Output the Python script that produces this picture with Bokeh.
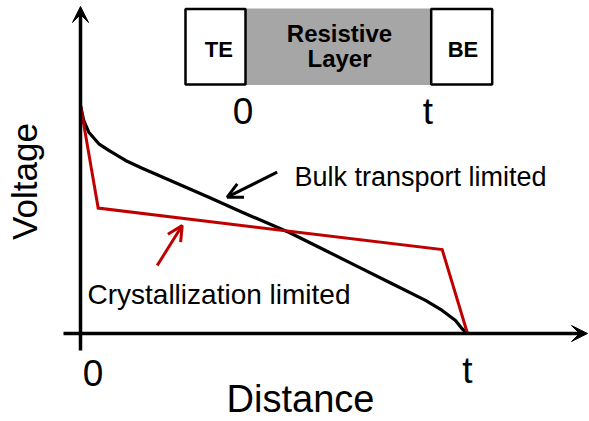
import math
from bokeh.plotting import figure
from bokeh.models import Range1d, Arrow, VeeHead, OpenHead
from bokeh.core.properties import value
from bokeh.embed import file_html
from bokeh.resources import INLINE

# ---------------- data ----------------
# distance in units of layer thickness t, voltage normalised to applied bias
bulk_distance = [0.0, 0.0085, 0.0214, 0.0473, 0.0731, 0.1163, 0.1594, 0.2455,
                 0.3315, 0.4178, 0.5382, 0.6331, 0.7191, 0.8054, 0.8915,
                 0.9346, 0.969, 0.986, 1.0]
bulk_voltage = [1.0, 0.934, 0.883, 0.832, 0.803, 0.759, 0.725, 0.661,
                0.598, 0.532, 0.444, 0.364, 0.291, 0.218, 0.145,
                0.101, 0.057, 0.021, 0.0]
cryst_distance = [0.0, 0.0457, 0.9346, 1.0]
cryst_voltage = [1.0, 0.550, 0.368, 0.0]

tick_positions = [0.0, 1.0]
tick_labels = ["0", "t"]
x_title = "Distance"
y_title = "Voltage"
bulk_label = "Bulk transport limited"
cryst_label = "Crystallization limited"
layer_labels = ["TE", "Resistive\nLayer", "BE"]

# ---------------- layout ----------------
W, H = 589, 421
OFF = 0          # canvas origin on the captured page
X0_PX, T_PX = 80.0, 467.0     # page px of distance 0 and t
Y0_PX, V1_PX = 333.0, 105.0   # page px of voltage 0 and 1
SX = T_PX - X0_PX
SY = Y0_PX - V1_PX
K = 0.35   # measured shift of the rendered baseline (in em)


def px(xp):
    return (xp - X0_PX) / SX


def py(yp):
    return (Y0_PX - yp) / SY


p = figure(width=W, height=H, output_backend="svg", toolbar_location=None,
           x_range=Range1d(px(OFF), px(OFF + W)),
           y_range=Range1d(py(OFF + H), py(OFF)),
           x_axis_type=None, y_axis_type=None, min_border=0)
p.outline_line_color = None
p.grid.visible = False
p.background_fill_color = "white"
p.border_fill_color = "white"

FONT = value("Liberation Sans")
BLACK = "#000000"
RED = "#C00000"

# ---------------- axes with arrows ----------------
p.add_layout(Arrow(x_start=0, y_start=py(350), x_end=0, y_end=py(6),
                   line_color=BLACK, line_width=3.5,
                   end=VeeHead(size=16, fill_color=BLACK, line_color=BLACK, line_width=1)))
p.add_layout(Arrow(x_start=px(63), y_start=0, x_end=px(587), y_end=0,
                   line_color=BLACK, line_width=3.5,
                   end=VeeHead(size=16, fill_color=BLACK, line_color=BLACK, line_width=1)))

# ---------------- device sketch (TE | resistive layer | BE) ----------------
top, bot = py(8.5), py(84)
p.quad(left=[px(245)], right=[px(430.7)], top=[top], bottom=[bot],
       fill_color="#A6A6A6", line_color="#A6A6A6", line_width=1)
p.quad(left=[px(185), px(430.7)], right=[px(245), px(491.7)], top=[top, top],
       bottom=[bot, bot], fill_color="white", line_color=BLACK, line_width=2.5)

# ---------------- curves ----------------
p.line(bulk_distance, bulk_voltage, line_color=BLACK, line_width=3.2, line_join="round")
p.line(cryst_distance, cryst_voltage, line_color=RED, line_width=3.0, line_join="miter")

# ---------------- annotation arrows ----------------
p.add_layout(Arrow(x_start=px(276.7), y_start=py(171.7), x_end=px(226.7), y_end=py(196.7),
                   line_color=BLACK, line_width=3,
                   end=OpenHead(size=15, line_color=BLACK, line_width=3)))
p.add_layout(Arrow(x_start=px(156.7), y_start=py(265), x_end=px(181.7), y_end=py(225),
                   line_color=RED, line_width=3,
                   end=OpenHead(size=15, line_color=RED, line_width=3)))


# ---------------- texts ----------------
def label(xp, yp, text, size, align="left", angle=0.0, style="normal"):
    """xp, yp: page pixels of the wanted baseline anchor."""
    if angle == 0.0:
        yp = yp - K * size
    else:
        xp = xp - K * size
    p.text(x=[px(xp)], y=[py(yp)], text=[text], text_font=FONT,
           text_font_size=f"{size}px", text_align=align,
           text_baseline="alphabetic", angle=angle,
           text_font_style=style, text_color=BLACK)


label(294, 186, bulk_label, 27)
label(87, 303.3, cryst_label, 28)
label(X0_PX + 12.5, 385, tick_labels[0], 37, align="center")
label(T_PX, 382.5, tick_labels[1], 37, align="center")
label(300, 412, x_title, 38, align="center")
label(36, 181, y_title, 35, align="center", angle=math.pi / 2)

label(218.3, 56.6, layer_labels[0], 22, align="center", style="bold")
label(462.5, 56.6, layer_labels[2], 22, align="center", style="bold")
res, lay = layer_labels[1].split("\n")
label(339, 41.7, res, 24, align="center", style="bold")
label(339, 66.7, lay, 24, align="center", style="bold")
label(242.5, 123.3, tick_labels[0], 37, align="center")
label(427.5, 123.5, tick_labels[1], 37, align="center")

open("out.html", "w").write(file_html(p, INLINE))
